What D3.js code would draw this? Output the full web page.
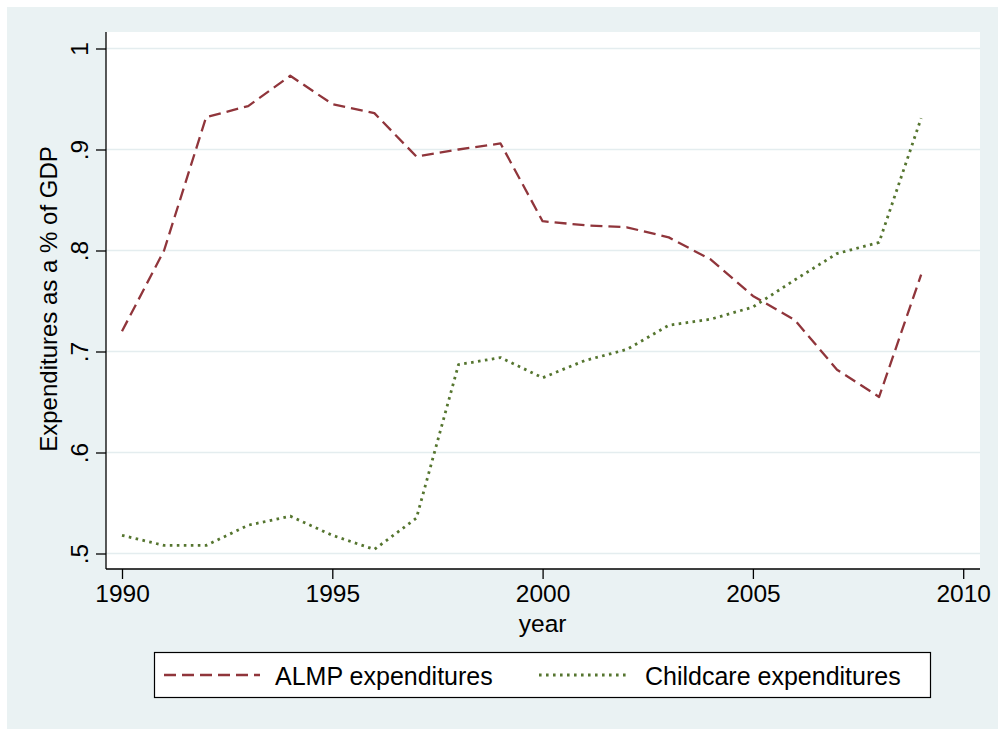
<!DOCTYPE html>
<html>
<head>
<meta charset="utf-8">
<script src="https://cdn.jsdelivr.net/npm/d3@7"></script>
<style>
  html, body { margin: 0; padding: 0; background: #ffffff; }
  svg { display: block; font-family: "Liberation Sans", Arial, Helvetica, sans-serif; }
</style>
</head>
<body>
<svg id="chart" width="998" height="729"></svg>
<script>
// Annual spending, % of GDP
const years = [1990, 1991, 1992, 1993, 1994, 1995, 1996, 1997, 1998, 1999,
               2000, 2001, 2002, 2003, 2004, 2005, 2006, 2007, 2008, 2009];
const almp = [0.720, 0.800, 0.932, 0.943, 0.973, 0.945, 0.936, 0.893, 0.900, 0.906,
              0.829, 0.825, 0.823, 0.813, 0.791, 0.755, 0.731, 0.682, 0.655, 0.776];
const childcare = [0.518, 0.508, 0.508, 0.528, 0.537, 0.518, 0.504, 0.535, 0.687, 0.694,
                   0.674, 0.691, 0.702, 0.726, 0.732, 0.744, 0.771, 0.797, 0.808, 0.931];
const xTicks = [1990, 1995, 2000, 2005, 2010];
const yTicks = [0.5, 0.6, 0.7, 0.8, 0.9, 1.0];
const yTickLabels = [".5", ".6", ".7", ".8", ".9", "1"];
const seriesNames = ["ALMP expenditures", "Childcare expenditures"];

const svg = d3.select("#chart");
const W = 998, H = 729;

// outer graph region
svg.append("rect").attr("x", 7).attr("y", 7).attr("width", W - 7).attr("height", H - 7)
  .attr("fill", "#eaf2f3");

// plot region
const plot = { left: 106, right: 980, top: 32, bottom: 569 };
svg.append("rect")
  .attr("x", plot.left).attr("y", plot.top)
  .attr("width", plot.right - plot.left).attr("height", plot.bottom - plot.top)
  .attr("fill", "#ffffff");

const x = d3.scaleLinear().domain([1990, 2010]).range([122, 963.2]);
const y = d3.scaleLinear().domain([0.5, 1.0]).range([553.5, 48.5]);

// horizontal grid
svg.append("g").selectAll("line").data(yTicks).join("line")
  .attr("x1", plot.left).attr("x2", plot.right)
  .attr("y1", d => y(d)).attr("y2", d => y(d))
  .attr("stroke", "#e4edef").attr("stroke-width", 1.6);

const FS = 24;

// y axis
const yAxis = d3.axisLeft(y).tickValues(yTicks)
  .tickFormat((d, i) => yTickLabels[i]).tickSize(10).tickSizeOuter(0).tickPadding(8);
const gy = svg.append("g").attr("transform", `translate(${plot.left},0)`).call(yAxis);
gy.select(".domain").remove();
gy.selectAll(".tick line").attr("stroke", "#000").attr("stroke-width", 1.3);
gy.selectAll(".tick text")
  .attr("font-size", FS + 0.5).attr("fill", "#000")
  .attr("x", null).attr("dy", null)
  .attr("text-anchor", "middle")
  .attr("transform", "translate(-18,0) rotate(-90)");
svg.append("line").attr("x1", plot.left).attr("x2", plot.left)
  .attr("y1", plot.top).attr("y2", plot.bottom)
  .attr("stroke", "#000").attr("stroke-width", 1.3);

// x axis
const xAxis = d3.axisBottom(x).tickValues(xTicks).tickFormat(d3.format("d"))
  .tickSize(10).tickSizeOuter(0).tickPadding(6);
const gx = svg.append("g").attr("transform", `translate(0,${plot.bottom})`).call(xAxis);
gx.select(".domain").remove();
gx.selectAll(".tick line").attr("stroke", "#000").attr("stroke-width", 1.3);
gx.selectAll(".tick text").attr("font-size", FS + 0.5).attr("fill", "#000")
  .attr("dy", null).attr("y", 33);
svg.append("line").attr("x1", plot.left).attr("x2", plot.right)
  .attr("y1", plot.bottom).attr("y2", plot.bottom)
  .attr("stroke", "#000").attr("stroke-width", 1.3);

// axis titles
svg.append("text").attr("x", x(2000)).attr("y", 632)
  .attr("text-anchor", "middle").attr("font-size", FS + 0.5).text("year");
svg.append("text")
  .attr("transform", `translate(57,${(y(0.5) + y(1.0)) / 2 - 2}) rotate(-90)`)
  .attr("text-anchor", "middle").attr("font-size", FS)
  .text("Expenditures as a % of GDP");

// series
const styles = [
  { color: "#90353b", dash: "12,6", width: 2.3 },
  { color: "#55752f", dash: "2.6,4.4", width: 2.8 }
];
const line = d3.line().x((d, i) => x(years[i])).y(d => y(d));
[almp, childcare].forEach((vals, k) => {
  svg.append("path").datum(vals)
    .attr("d", line)
    .attr("fill", "none")
    .attr("stroke", styles[k].color)
    .attr("stroke-width", styles[k].width)
    .attr("stroke-dasharray", styles[k].dash)
    .attr("stroke-linejoin", "round");
});

// legend
const lg = svg.append("g");
lg.append("rect").attr("x", 154.5).attr("y", 652.5).attr("width", 776).attr("height", 45)
  .attr("fill", "#fff").attr("stroke", "#000").attr("stroke-width", 1.2);
const legendItems = [
  { x0: 164, x1: 260, tx: 275 },
  { x0: 539, x1: 630, tx: 645 }
];
legendItems.forEach((it, k) => {
  lg.append("line").attr("x1", it.x0).attr("x2", it.x1)
    .attr("y1", 675).attr("y2", 675)
    .attr("stroke", styles[k].color).attr("stroke-width", styles[k].width)
    .attr("stroke-dasharray", styles[k].dash);
  lg.append("text").attr("x", it.tx).attr("y", 685)
    .attr("font-size", 25).attr("fill", "#000").text(seriesNames[k]);
});
</script>
</body>
</html>
